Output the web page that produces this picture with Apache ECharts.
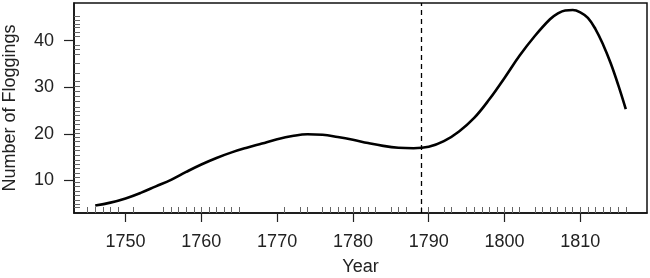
<!DOCTYPE html>
<html>
<head>
<meta charset="utf-8">
<style>
  html, body { margin: 0; padding: 0; background: #fff; }
  #chart { width: 650px; height: 278px; }
</style>
<script src="https://cdn.jsdelivr.net/npm/echarts@6/dist/echarts.min.js"></script>
</head>
<body>
<div id="chart"></div>
<script>
// smoothed curve
var years = [1746, 1748, 1750, 1752, 1754, 1756, 1758, 1760, 1762, 1764, 1766, 1768, 1770, 1772, 1774, 1776, 1778, 1780, 1782, 1784, 1786, 1788, 1790, 1792, 1794, 1796, 1798, 1800, 1802, 1804, 1806, 1807, 1808, 1809, 1810, 1811, 1812, 1813, 1814, 1815, 1816];
var floggings = [4.6, 5.2, 6.1, 7.3, 8.7, 10.1, 11.8, 13.4, 14.8, 16.0, 17.0, 17.9, 18.8, 19.5, 19.9, 19.8, 19.3, 18.7, 18.0, 17.4, 17.0, 16.9, 17.2, 18.4, 20.5, 23.4, 27.4, 32.0, 36.8, 41.0, 44.6, 45.8, 46.5, 46.6, 46.1, 44.9, 42.5, 39.2, 35.2, 30.5, 25.3];

// rug marks along the axes
var rugYears = [1745, 1746, 1747, 1748, 1749, 1751, 1755, 1756, 1757, 1758, 1759, 1760, 1761, 1762, 1763, 1764, 1765, 1771, 1773, 1774, 1776, 1777, 1778, 1779, 1780, 1781, 1782, 1783, 1785, 1786, 1787, 1789, 1790, 1792, 1793, 1795, 1796, 1797, 1798, 1799, 1800, 1801, 1802, 1804, 1805, 1806, 1807, 1808, 1809, 1810, 1811, 1812, 1813, 1814, 1815, 1816];
var rugValues = [4.3, 4.8, 5.8, 6.8, 7.7, 8.7, 9.6, 10.6, 11.6, 12.6, 13.5, 14.4, 15.4, 16.4, 17.3, 18.3, 19.2, 20.1, 21.0, 22.0, 23.0, 23.9, 24.9, 25.8, 26.9, 28.0, 29.1, 30.3, 31.2, 33.0, 35.2, 37.1, 38.2, 39.1, 41.0, 41.9, 42.9, 43.6, 44.3, 45.2];

var xTicks = [1750, 1760, 1770, 1780, 1790, 1800, 1810];
var yTicks = [10, 20, 30, 40];
var cutYear = 1789;

var xMin = 1743.2, xMax = 1818.8;
var yMin = 2.97, yMax = 48.1;

var font = 'Liberation Sans, Arial, sans-serif';
var plain = function (v) { return String(v); };

var chart = echarts.init(document.getElementById('chart'));

var option = {
  animation: false,
  grid: {
    left: 74, right: 3, top: 3, bottom: 65,
    show: true,
    borderColor: '#111',
    borderWidth: 1.5,
    containLabel: false,
    outerBoundsMode: 'none'
  },
  xAxis: [
    {
      type: 'value', min: xMin, max: xMax,
      name: 'Year', nameLocation: 'middle', nameGap: 45,
      nameTextStyle: { color: '#222', fontSize: 18, fontFamily: font },
      axisLine: { show: true, onZero: false, lineStyle: { color: '#111', width: 1.5 } },
      axisTick: { show: true, customValues: xTicks, length: 9, lineStyle: { color: '#222', width: 1.2 } },
      axisLabel: { show: true, customValues: xTicks, formatter: plain, margin: 20, color: '#222', fontSize: 18, fontFamily: font },
      splitLine: { show: false }
    },
    {
      type: 'value', min: xMin, max: xMax, position: 'bottom', offset: 0,
      axisLine: { show: false },
      axisTick: { show: true, inside: true, customValues: rugYears, length: 6, lineStyle: { color: '#666', width: 1 } },
      axisLabel: { show: false },
      splitLine: { show: false }
    }
  ],
  yAxis: [
    {
      type: 'value', min: yMin, max: yMax,
      name: 'Number of Floggings', nameLocation: 'middle', nameGap: 55, nameRotate: 90,
      nameTextStyle: { color: '#222', fontSize: 18, fontFamily: font },
      axisLine: { show: true, onZero: false, lineStyle: { color: '#111', width: 1.5 } },
      axisTick: { show: true, customValues: yTicks, length: 10, lineStyle: { color: '#222', width: 1.2 } },
      axisLabel: { show: true, customValues: yTicks, formatter: plain, margin: 20, color: '#222', fontSize: 18, fontFamily: font },
      splitLine: { show: false }
    },
    {
      type: 'value', min: yMin, max: yMax, position: 'left', offset: 0,
      axisLine: { show: false },
      axisTick: { show: true, inside: true, customValues: rugValues, length: 6, lineStyle: { color: '#666', width: 1 } },
      axisLabel: { show: false },
      splitLine: { show: false }
    }
  ],
  series: [
    {
      type: 'line',
      xAxisIndex: 0, yAxisIndex: 0,
      data: years.map(function (y, i) { return [y, floggings[i]]; }),
      smooth: 0.4,
      showSymbol: false,
      symbol: 'none',
      lineStyle: { color: '#000', width: 2.6 },
      markLine: {
        silent: true,
        symbol: 'none',
        label: { show: false },
        lineStyle: { color: '#000', type: [5, 4], width: 1.3 },
        data: [{ xAxis: cutYear }]
      }
    }
  ]
};

chart.setOption(option);
</script>
</body>
</html>
